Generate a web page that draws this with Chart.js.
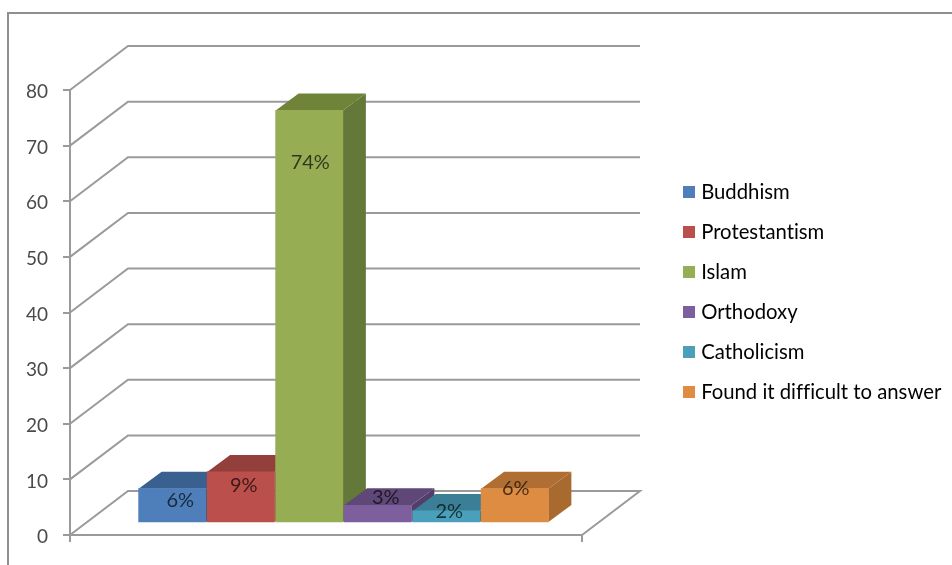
<!DOCTYPE html>
<html>
<head>
<meta charset="utf-8">
<style>
  html, body { margin: 0; padding: 0; background: #fff; }
  canvas { display: block; }
</style>
<script src="https://cdn.jsdelivr.net/npm/chart.js@4"></script>
</head>
<body>
<canvas id="chart" width="952" height="565"></canvas>
<script>
const categories = ['Buddhism', 'Protestantism', 'Islam', 'Orthodoxy', 'Catholicism', 'Found it difficult to answer'];
const values = [6, 9, 74, 3, 2, 6];
const valueLabels = ['6%', '9%', '74%', '3%', '2%', '6%'];
const yTicksMax = 80;

const frontColors = ['#4e7fba', '#ba4f4b', '#97ad54', '#7d5f9e', '#4aa0bb', '#dd8c42'];
const topColors = ['#39608f', '#93403c', '#6f8438', '#5f4878', '#3a7f95', '#b06e33'];
const sideColors = ['#305479', '#7f3633', '#64783a', '#523e68', '#326e82', '#a96a30'];

const FONT = 'Lato, "Open Sans", sans-serif';
const GREY = '#9a9a9a';
const TEXT = '#4a4a4a';

// 3D look: back wall and bar depth, in pixels
const WALL_DX = 58, WALL_DY = -44;
const BAR_DX = 23, BAR_DY = -17;
// where Excel left each value label, relative to the top of the front face
const LABEL_DX = [8, 3, 1, 8, 3, 1];
const LABEL_DY = [12, 14, 52, -8, 1, 0];

const scene3d = {
    id: 'scene3d',
    afterLayout(chart) {
        // the legend sits higher than the plot, chart.js would center it on the full height
        const lg = chart.legend;
        lg.left = 687 - lg.options.labels.padding;
        lg.right = 952;
        lg.top = 61;
        lg.bottom = 523;
    },
    beforeDraw(chart) {
        const c = chart.ctx;
        c.textRendering = 'optimizeSpeed';   // no ti / fi ligatures, the original has none
        c.save();
        // outer frame of the pasted picture
        c.strokeStyle = '#8f8f8f';
        c.lineWidth = 2;
        c.beginPath();
        c.moveTo(8, 565); c.lineTo(8, 13); c.lineTo(952, 13);
        c.stroke();
        c.restore();
    },
    beforeDatasetsDraw(chart) {
        const c = chart.ctx, y = chart.scales.y, a = chart.chartArea;
        c.save();
        c.strokeStyle = GREY;
        c.lineWidth = 2;
        c.lineJoin = 'miter';
        y.ticks.forEach(t => {
            const py = y.getPixelForValue(t.value);
            c.beginPath();
            c.moveTo(a.left, py);
            c.lineTo(a.left + WALL_DX, py + WALL_DY);
            c.lineTo(a.right + WALL_DX, py + WALL_DY);
            if (t.value === 0) c.lineTo(a.right, py);
            c.stroke();
        });
        // tops and sides go behind every front face, left to right
        const bars = chart.getDatasetMeta(0).data;
        bars.forEach((b, i) => {
            const l = b.x - b.width / 2, r = b.x + b.width / 2;
            c.fillStyle = sideColors[i];
            c.beginPath();
            c.moveTo(r, b.y); c.lineTo(r + BAR_DX, b.y + BAR_DY);
            c.lineTo(r + BAR_DX, b.base + BAR_DY); c.lineTo(r, b.base);
            c.closePath(); c.fill();
            c.fillStyle = topColors[i];
            c.beginPath();
            c.moveTo(l, b.y); c.lineTo(l + BAR_DX, b.y + BAR_DY);
            c.lineTo(r + BAR_DX, b.y + BAR_DY); c.lineTo(r, b.y);
            c.closePath(); c.fill();
        });
        c.restore();
    },
    afterDatasetsDraw(chart) {
        const c = chart.ctx;
        c.save();
        c.font = '20px ' + FONT;
        c.fillStyle = 'rgba(0,0,0,0.68)';
        c.textAlign = 'center';
        c.textBaseline = 'middle';
        chart.getDatasetMeta(0).data.forEach((b, i) => {
            c.fillText(valueLabels[i], b.x + LABEL_DX[i], b.y + LABEL_DY[i]);
        });
        c.restore();
    }
};

new Chart(document.getElementById('chart'), {
    type: 'bar',
    data: {
        labels: [''],
        datasets: [{
            data: values.map((v, i) => ({ x: i, y: v })),
            backgroundColor: frontColors,
            borderWidth: 0,
            barPercentage: 1,
            categoryPercentage: 1,
            xAxisID: 'barX',
            yAxisID: 'barY'
        }]
    },
    plugins: [scene3d],
    options: {
        responsive: false,
        animation: false,
        layout: { padding: { left: 20, top: 90, right: 120, bottom: 23 } },
        plugins: {
            title: { display: false },
            tooltip: { enabled: false },
            legend: {
                position: 'right',
                maxWidth: 250,
                labels: {
                    usePointStyle: true,   // square drawn wider than its slot, keeps text close to it
                    boxWidth: 4,
                    boxHeight: 12,
                    padding: 19.7,
                    color: TEXT,
                    font: { family: FONT, size: 20.3 },
                    generateLabels: () => categories.map((name, i) => ({
                        text: name,
                        fillStyle: frontColors[i],
                        strokeStyle: frontColors[i],
                        lineWidth: 0,
                        pointStyle: 'rect',
                        index: i
                    }))
                }
            }
        },
        scales: {
            x: {
                type: 'category',
                grid: { offset: true, drawOnChartArea: false, tickLength: 7, color: GREY, lineWidth: 2 },
                border: { color: GREY, width: 2 },
                ticks: { display: false },
                afterFit: s => { s.height = 7; }
            },
            y: {
                min: 0,
                max: yTicksMax,
                grid: { drawOnChartArea: false, tickLength: 7, color: GREY, lineWidth: 2 },
                border: { color: GREY, width: 2 },
                ticks: { stepSize: 10, padding: 15, labelOffset: 2, color: TEXT, font: { family: FONT, size: 19 } },
                afterFit: s => { s.width = 50; }
            },
            // the bars stand in the middle of the floor, so they get their own hidden axes
            barX: { type: 'linear', display: false, offset: false, min: -1.4927, max: 5.9818 },
            barY: { type: 'linear', display: false, min: -2.337, max: 77.663 }
        }
    }
});
</script>
</body>
</html>
